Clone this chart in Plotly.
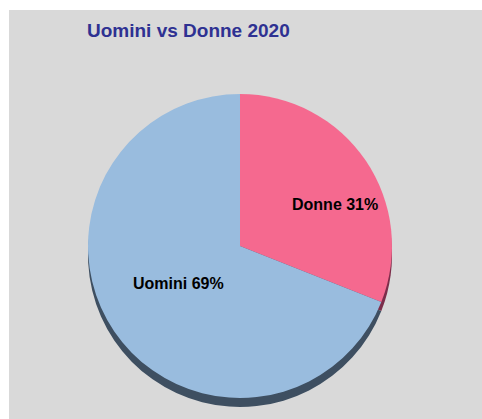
import plotly.graph_objects as go

categories = ["Donne", "Uomini"]
values = [31, 69]
face_colors = ["#F5698F", "#99BCDE"]
shadow_colors = ["#7C2D4A", "#3E4F61"]
title_text = "Uomini vs Donne 2020"

W, H = 482, 419
cx, cy, r = 240, 246, 152
shadow_dy = 9

def dom(cx, cy, r):
    return dict(x=[(cx - r) / W, (cx + r) / W], y=[(H - (cy + r)) / H, (H - (cy - r)) / H])

fig = go.Figure()
fig.add_trace(go.Pie(
    labels=categories, values=values, sort=False, direction="clockwise", rotation=0,
    marker=dict(colors=shadow_colors, line=dict(width=0)),
    textinfo="none", hoverinfo="skip", showlegend=False,
    domain=dom(cx, cy + shadow_dy, r),
))
fig.add_trace(go.Pie(
    labels=categories, values=values, sort=False, direction="clockwise", rotation=0,
    marker=dict(colors=face_colors, line=dict(width=0)),
    textinfo="none", showlegend=False,
    domain=dom(cx, cy, r),
))

label_pos = {"Donne": (335, 204), "Uomini": (178, 283)}
for c, v in zip(categories, values):
    x, y = label_pos[c]
    fig.add_annotation(
        x=x / W, y=1 - y / H, xref="paper", yref="paper",
        text=f"<b>{c} {v}%</b>", showarrow=False,
        font=dict(family="Liberation Sans, Arial", size=16, color="#000000"),
        xanchor="center", yanchor="middle",
    )

fig.add_annotation(
    x=85 / W, y=1 - 30 / H, xref="paper", yref="paper",
    text=f"<b>{title_text}</b>", showarrow=False,
    font=dict(family="Liberation Sans, Arial", size=19, color="#2E3192"),
    xanchor="left", yanchor="middle",
)

fig.add_shape(type="rect", xref="paper", yref="paper",
              x0=9 / W, x1=1, y0=0, y1=1 - 10 / H,
              fillcolor="#D9D9D9", line=dict(width=0), layer="below")

fig.update_layout(
    width=W, height=H, margin=dict(l=0, r=0, t=0, b=0),
    paper_bgcolor="#FFFFFF", plot_bgcolor="#FFFFFF",
)
fig.write_html(
    "out.html",
    config={"displayModeBar": False},
    post_script="document.body.style.margin='0';document.body.style.overflow='hidden';",
)
